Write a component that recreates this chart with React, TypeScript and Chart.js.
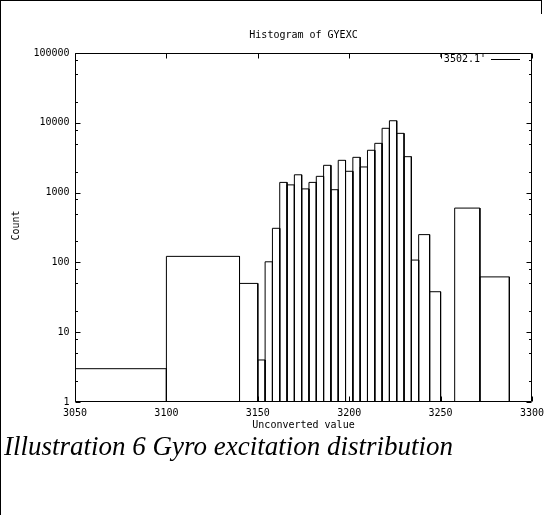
import React, { useEffect, useRef } from "react";
import { Chart, registerables } from "chart.js";

Chart.register(...registerables);

// ---- data ----
const binStarts = [
  3050, 3100, 3140, 3150, 3154, 3158, 3162, 3166, 3170, 3174, 3178, 3182, 3186, 3190, 3194,
  3198, 3202, 3206, 3210, 3214, 3218, 3222, 3226, 3230, 3234, 3238, 3244, 3257.7, 3271.5,
];
const binEnds = [
  3100, 3140, 3150, 3154, 3158, 3162, 3166, 3170, 3174, 3178, 3182, 3186, 3190, 3194, 3198,
  3202, 3206, 3210, 3214, 3218, 3222, 3226, 3230, 3234, 3238, 3244, 3250, 3271.5, 3287.6,
];
const counts = [
  3, 122, 50, 4, 102, 308, 1400, 1290, 1800, 1130, 1400, 1710, 2460, 1100, 2900,
  2020, 3200, 2330, 4040, 5080, 8340, 10700, 7060, 3270, 108, 250, 38, 600, 62,
];

const xTicks = [3050, 3100, 3150, 3200, 3250, 3300];
const yTicks = [1, 10, 100, 1000, 10000, 100000];
const yMinorFactors = [2, 5, 8];

const titleText = "Histogram of GYEXC";
const xLabel = "Unconverted value";
const yLabel = "Count";
const seriesName = "'3502.1'";
const caption = "Illustration 6 Gyro excitation distribution";

const MONO = '10px "DejaVu Sans Mono", "Liberation Mono", monospace';

function buildOutline() {
  const pts: { x: number; y: number | null }[] = [];
  for (let i = 0; i < counts.length; i++) {
    pts.push({ x: binStarts[i], y: 1 });
    pts.push({ x: binStarts[i], y: counts[i] });
    pts.push({ x: binEnds[i], y: counts[i] });
    pts.push({ x: binEnds[i], y: 1 });
    pts.push({ x: binEnds[i], y: null });
  }
  return pts;
}

const gnuplotFrame = {
  id: "gnuplotFrame",
  afterDraw(chart: any) {
    const ctx = chart.ctx as CanvasRenderingContext2D;
    const xs = chart.scales.x;
    const ys = chart.scales.y;
    const a = chart.chartArea;
    const L = Math.round(a.left) + 0.5;
    const R = Math.round(a.right) - 0.5;
    const T = Math.round(a.top) + 0.5;
    const B = Math.round(a.bottom) - 0.5;
    ctx.save();
    ctx.strokeStyle = "#000";
    ctx.fillStyle = "#000";
    ctx.lineWidth = 1;
    ctx.beginPath();
    ctx.rect(L, T, R - L, B - T);
    ctx.stroke();

    const major = 5;
    const minor = 2.5;
    ctx.beginPath();
    for (const v of xTicks) {
      const px = Math.round(xs.getPixelForValue(v)) + 0.5;
      ctx.moveTo(px, B);
      ctx.lineTo(px, B - major);
      ctx.moveTo(px, T);
      ctx.lineTo(px, T + major);
    }
    for (const v of yTicks) {
      const py = Math.round(ys.getPixelForValue(v)) + 0.5;
      ctx.moveTo(L, py);
      ctx.lineTo(L + major, py);
      ctx.moveTo(R, py);
      ctx.lineTo(R - major, py);
      if (v < yTicks[yTicks.length - 1]) {
        for (const f of yMinorFactors) {
          const pm = Math.round(ys.getPixelForValue(v * f)) + 0.5;
          ctx.moveTo(L, pm);
          ctx.lineTo(L + minor, pm);
          ctx.moveTo(R, pm);
          ctx.lineTo(R - minor, pm);
        }
      }
    }
    ctx.stroke();

    ctx.font = MONO;
    ctx.textBaseline = "middle";
    ctx.textAlign = "right";
    for (const v of yTicks) {
      ctx.fillText(String(v), L - 6, ys.getPixelForValue(v));
    }
    ctx.textAlign = "center";
    for (const v of xTicks) {
      ctx.fillText(String(v), xs.getPixelForValue(v), B + 11.5);
    }
    const cx = (a.left + a.right) / 2;
    ctx.fillText(xLabel, cx, B + 24);
    ctx.fillText(titleText, cx, a.top - 18);

    ctx.save();
    ctx.translate(16, (a.top + a.bottom) / 2 - 2);
    ctx.rotate(-Math.PI / 2);
    ctx.fillText(yLabel, 0, 0);
    ctx.restore();

    // key
    ctx.textAlign = "right";
    const ky = a.top + 6;
    ctx.fillText(seriesName, a.right - 46, ky);
    ctx.beginPath();
    ctx.moveTo(a.right - 41, Math.round(ky) + 0.5);
    ctx.lineTo(a.right - 12, Math.round(ky) + 0.5);
    ctx.stroke();
    ctx.restore();
  },
};

export default function App() {
  const ref = useRef<HTMLCanvasElement | null>(null);
  useEffect(() => {
    if (!ref.current) return;
    const chart = new Chart(ref.current, {
      type: "line",
      data: {
        datasets: [
          {
            label: seriesName,
            data: buildOutline() as any,
            borderColor: "#000",
            borderWidth: 1,
            pointRadius: 0,
            fill: false,
            tension: 0,
            spanGaps: false,
          },
        ],
      },
      options: {
        animation: false,
        responsive: false,
        devicePixelRatio: 1,
        layout: { padding: { left: 75, top: 53, right: 19, bottom: 113 } },
        plugins: { legend: { display: false }, title: { display: false }, tooltip: { enabled: false } },
        scales: {
          x: { type: "linear", min: 3050, max: 3300, display: false },
          y: { type: "logarithmic", min: 1, max: 100000, display: false },
        },
      },
      plugins: [gnuplotFrame],
    });
    return () => chart.destroy();
  }, []);

  return (
    <div
      style={{
        position: "fixed",
        left: 0,
        top: 0,
        width: 551,
        height: 515,
        background: "#fff",
        overflow: "hidden",
      }}
    >
      <canvas ref={ref} width={551} height={515} style={{ position: "absolute", left: 0, top: 0, width: 551, height: 515 }} />
      <div
        style={{
          position: "absolute",
          left: 0,
          top: 0,
          width: 541,
          height: 530,
          borderTop: "1px solid #000",
          borderLeft: "1px solid #000",
          pointerEvents: "none",
        }}
      />
      <div
        style={{
          position: "absolute",
          left: 541,
          top: 0,
          width: 1,
          height: 14,
          background: "#000",
          pointerEvents: "none",
        }}
      />
      <div
        style={{
          position: "absolute",
          left: 4,
          top: 433,
          fontFamily: '"Liberation Serif", "Times New Roman", serif',
          fontStyle: "italic",
          fontSize: 27,
          lineHeight: "27px",
          whiteSpace: "nowrap",
          color: "#000",
        }}
      >
        {caption}
      </div>
    </div>
  );
}
